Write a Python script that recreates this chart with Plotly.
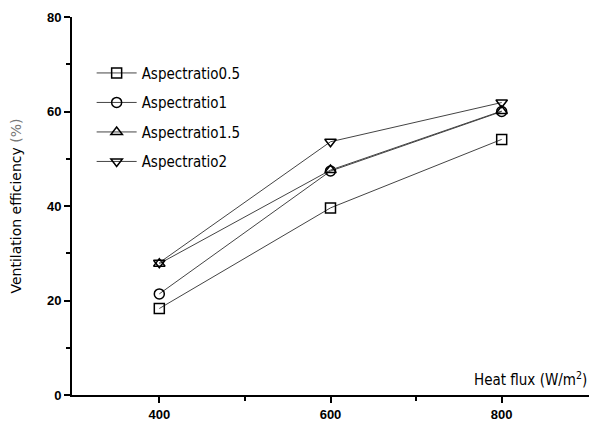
import plotly.graph_objects as go

heat_flux = [400, 600, 800]
ar_05 = [18.3, 39.6, 54.1]
ar_1 = [21.4, 47.4, 60.0]
ar_15 = [27.8, 47.6, 60.1]
ar_2 = [28.0, 53.6, 61.9]
series_names = ["Aspectratio0.5", "Aspectratio1", "Aspectratio1.5", "Aspectratio2"]
symbols = ["square-open", "circle-open", "triangle-up-open", "triangle-down-open"]
y_ticks = [0, 20, 40, 60, 80]
x_ticks = [400, 600, 800]

fig = go.Figure()
for name, vals, sym in zip(series_names, [ar_05, ar_1, ar_15, ar_2], symbols):
    fig.add_trace(go.Scatter(
        x=heat_flux, y=vals, name=name, mode="lines+markers",
        legendgroup=name,
        line=dict(color="#444444", width=1),
        marker=dict(symbol=sym, size=10, color="black", line=dict(color="black", width=1.5)),
    ))

fig.update_layout(
    width=592, height=425,
    margin=dict(l=72, r=3, t=17, b=28),
    plot_bgcolor="white", paper_bgcolor="white",
    font=dict(family="DejaVu Sans", color="black"),
    showlegend=True,
    legend=dict(x=0.038, y=0.895, xanchor="left", yanchor="top",
                bgcolor="rgba(0,0,0,0)", font=dict(size=15, family="DejaVu Sans Condensed"),
                tracegroupgap=7, itemwidth=40),
    xaxis=dict(range=[298, 902], tickvals=x_ticks, showline=True, linecolor="black",
               linewidth=2, ticks="outside", ticklen=6, tickwidth=2, tickcolor="black",
               showgrid=False, zeroline=False,
               tickfont=dict(size=13, family="Liberation Sans", weight="bold"),
               minor=dict(tickvals=[500, 700], ticks="outside", ticklen=4, tickwidth=2, tickcolor="black")),
    yaxis=dict(range=[0, 80], tickvals=y_ticks, showline=True, linecolor="black",
               linewidth=2, ticks="outside", ticklen=6, tickwidth=2, tickcolor="black",
               showgrid=False, zeroline=False,
               tickfont=dict(size=13, family="Liberation Sans", weight="bold"),
               title=dict(text="Ventilation efficiency <span style='color:#777'>(%)</span>", font=dict(size=14), standoff=22),
               minor=dict(tickvals=[10, 30, 50, 70], ticks="outside", ticklen=4, tickwidth=2, tickcolor="black")),
)
fig.add_annotation(text="Heat flux (W/m<sup>2</sup>)", xref="paper", yref="paper",
                   x=1.0, y=0.0, xanchor="right", yanchor="bottom", yshift=4,
                   showarrow=False, font=dict(size=15, family="DejaVu Sans Condensed"))
fig.write_html("out.html")
